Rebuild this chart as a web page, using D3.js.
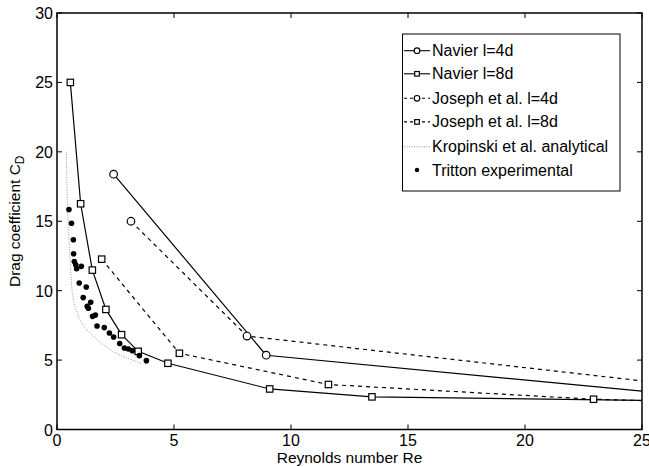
<!DOCTYPE html>
<html><head><meta charset="utf-8">
<script src="https://cdn.jsdelivr.net/npm/d3@7"></script>
<style>body{margin:0;background:#fff}svg text{font-family:"Liberation Sans",Arial,sans-serif}</style>
</head><body><svg id="c" width="649" height="467"></svg>
<script>
const navier4 = [[2.42,18.39],[8.94,5.35],[25,2.76]];
const navier8 = [[0.57,25.0],[1.01,16.26],[1.51,11.48],[2.09,8.65],[2.76,6.83],[3.47,5.63],[4.74,4.77],[9.09,2.92],[13.46,2.35],[25,2.1]];
const joseph4 = [[3.16,15.0],[8.12,6.73],[25,3.5]];
const joseph8 = [[1.91,12.27],[5.23,5.49],[11.6,3.24],[22.93,2.18],[25,2.08]];
const kropinski = [[0.40,20.0],[0.42,18.0],[0.45,16.0],[0.5,14.0],[0.56,12.0],[0.64,10.0],[0.74,9.0],[0.95,8.0],[1.2,7.3],[1.5,6.8],[1.9,6.2],[2.4,5.6],[2.9,5.2],[3.3,4.95],[3.6,4.75]];
const tritton = [[0.51,15.85],[0.62,14.86],[0.70,13.67],[0.71,12.66],[0.74,12.1],[0.80,11.87],[0.84,11.58],[1.04,11.75],[0.95,10.55],[1.25,10.26],[1.12,9.5],[1.44,9.16],[1.29,8.87],[1.34,8.73],[1.52,8.15],[1.64,8.24],[1.71,7.45],[2.02,7.34],[2.24,6.95],[2.42,6.66],[2.68,6.19],[2.88,5.87],[3.05,5.8],[3.22,5.68],[3.52,5.32],[3.82,4.96]];
const xTicks = [0,5,10,15,20,25];
const yTicks = [0,5,10,15,20,25,30];
const legendLabels = ["Navier l=4d","Navier l=8d","Joseph et al. l=4d","Joseph et al. l=8d","Kropinski et al. analytical","Tritton experimental"];

const L=57,R=642,T=13,B=429.5;
const svg=d3.select("#c");
const x=d3.scaleLinear().domain([0,25]).range([L,R]);
const y=d3.scaleLinear().domain([0,30]).range([B,T]);

svg.append("clipPath").attr("id","clip").append("rect").attr("x",L).attr("y",T).attr("width",R-L).attr("height",B-T);
const g=svg.append("g").attr("clip-path","url(#clip)");
const line=d3.line().x(d=>x(d[0])).y(d=>y(d[1]));

const series=[
 {data:navier4,dash:null,marker:"circle"},
 {data:navier8,dash:null,marker:"square"},
 {data:joseph4,dash:"4,4",marker:"circle"},
 {data:joseph8,dash:"4,4",marker:"square"}
];
g.append("path").attr("d",line(kropinski)).attr("fill","none").attr("stroke","#999").attr("stroke-width",1).attr("stroke-dasharray","1,1.5");
series.forEach(s=>{
  g.append("path").attr("d",line(s.data)).attr("fill","none").attr("stroke","#000").attr("stroke-width",1.2).attr("stroke-dasharray",s.dash);
});
function drawMarker(sel,type,cx,cy,size){
  if(type==="circle") sel.append("circle").attr("cx",cx).attr("cy",cy).attr("r",size).attr("fill","#fff").attr("stroke","#000").attr("stroke-width",1.2);
  else sel.append("rect").attr("x",cx-size).attr("y",cy-size).attr("width",2*size).attr("height",2*size).attr("fill","#fff").attr("stroke","#000").attr("stroke-width",1.2);
}
series.forEach(s=>{
  s.data.filter(d=>d[0]<25).forEach(d=>drawMarker(g,s.marker,x(d[0]),y(d[1]),s.marker==="circle"?3.8:3.2));
});
g.selectAll("circle.tr").data(tritton).enter().append("circle").attr("class","tr")
  .attr("cx",d=>x(d[0])).attr("cy",d=>y(d[1])).attr("r",2.8).attr("fill","#000");

const ax=svg.append("g");
ax.append("rect").attr("x",L).attr("y",T).attr("width",R-L).attr("height",B-T).attr("fill","none").attr("stroke","#000").attr("stroke-width",1.5);
const tl=5;
xTicks.forEach(t=>{
  ax.append("line").attr("x1",x(t)).attr("x2",x(t)).attr("y1",B).attr("y2",B-tl).attr("stroke","#000");
  ax.append("line").attr("x1",x(t)).attr("x2",x(t)).attr("y1",T).attr("y2",T+tl).attr("stroke","#000");
  ax.append("text").attr("x",x(t)).attr("y",446).attr("text-anchor","middle").attr("font-size",16).text(t);
});
yTicks.forEach(t=>{
  ax.append("line").attr("x1",L).attr("x2",L+tl).attr("y1",y(t)).attr("y2",y(t)).attr("stroke","#000");
  ax.append("line").attr("x1",R).attr("x2",R-tl).attr("y1",y(t)).attr("y2",y(t)).attr("stroke","#000");
  ax.append("text").attr("x",53).attr("y",y(t)+6).attr("text-anchor","end").attr("font-size",16).text(t);
});
svg.append("text").attr("x",(L+R)/2).attr("y",463).attr("text-anchor","middle").attr("font-size",15.5).text("Reynolds number Re");
const yl=svg.append("text").attr("transform",`translate(20,${(T+B)/2}) rotate(-90)`).attr("text-anchor","middle").attr("font-size",15.5);
yl.append("tspan").text("Drag coefficient C");
yl.append("tspan").attr("font-size",12).attr("dy",4).text("D");

const lg=svg.append("g");
lg.append("rect").attr("x",402.5).attr("y",34).attr("width",217.5).attr("height",157).attr("fill","#fff").attr("stroke","#000").attr("stroke-width",1);
const rowY=[50.7,73.8,98.3,121.9,146.7,170];
const styles=[{dash:null,m:"circle"},{dash:null,m:"square"},{dash:"3,3",m:"circle"},{dash:"3,3",m:"square"},{dash:"1,1.5",m:null,grey:true},{dash:null,m:"dot"}];
legendLabels.forEach((lab,i)=>{
  const st=styles[i],yy=rowY[i];
  if(st.m!=="dot"){
    lg.append("line").attr("x1",404).attr("x2",430).attr("y1",yy).attr("y2",yy)
      .attr("stroke",st.grey?"#999":"#000").attr("stroke-width",1.1).attr("stroke-dasharray",st.dash);
  }
  if(st.m==="circle") drawMarker(lg,"circle",417,yy,2.8);
  else if(st.m==="square") drawMarker(lg,"square",417,yy,2.3);
  else if(st.m==="dot") lg.append("circle").attr("cx",417).attr("cy",yy).attr("r",2.2).attr("fill","#000");
  lg.append("text").attr("x",432).attr("y",yy+5.5).attr("font-size",16).text(lab);
});
</script></body></html>
